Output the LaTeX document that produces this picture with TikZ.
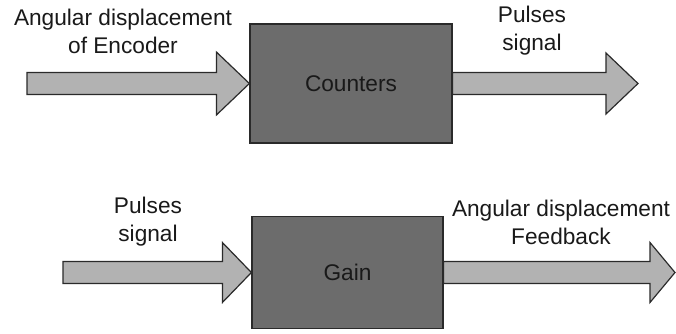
\documentclass[tikz,border=0pt]{standalone}
\usepackage{fontspec}
\setmainfont{Liberation Sans}
\usetikzlibrary{calc,positioning}
\definecolor{blkgray}{HTML}{6C6C6C}
\definecolor{arrgray}{HTML}{B2B2B2}
\definecolor{lnedge}{HTML}{2A2A2A}
\tikzset{
  blockbox/.style = {rectangle, draw=lnedge, line width=0.9pt, fill=blkgray,
                     align=center, font=\fontsize{17}{21}\selectfont, text=black!90},
  sglabel/.style  = {align=center, font=\fontsize{17}{21}\selectfont, text=black!90},
  fatarrow/.style = {draw=lnedge, line width=0.9pt, fill=arrgray, line join=miter},
}
% block arrow: #1 head length, #2 head half width, #3 from, #4 to
\newcommand{\fatarrowdraw}[4]{%
  \draw[fatarrow] ($(#3)+(0,-11)$) -- ($(#4)+(-#1,-11)$) -- ($(#4)+(-#1,-#2)$)
    -- (#4) -- ($(#4)+(-#1,#2)$) -- ($(#4)+(-#1,11)$) -- ($(#3)+(0,11)$) -- cycle;}

\begin{document}
\begin{tikzpicture}[x=0.75pt,y=-0.75pt]
\useasboundingbox (0,0) rectangle (676,333);

% Upper chain
\node[blockbox, minimum width=202*0.75pt, minimum height=119*0.75pt] (cnt) at (351,83.5) {Counters};
\coordinate (encin) at (27,83.5);
\coordinate (pulout) at (638,83.5);
\fatarrowdraw{33}{31.5}{encin}{cnt.west}
\fatarrowdraw{32}{30.5}{cnt.east}{pulout}
\node[sglabel] (encl) at (123,31) {Angular displacement\\of Encoder};
\node[sglabel] (pull) at (532,31) {Pulses\\signal};

% Lower chain
\node[blockbox, minimum width=191*0.75pt, minimum height=112*0.75pt] (gain) at (347.5,272.5) {Gain};
\coordinate (pulin) at (63,272.5);
\coordinate (fbout) at (675,272.5);
\fatarrowdraw{29}{30}{pulin}{gain.west}
\fatarrowdraw{25}{30}{gain.east}{fbout}
\node[sglabel] (pul2) at (148,221.5) {Pulses\\signal};
\node[sglabel] (fbl) at (561,222) {Angular displacement\\Feedback};
\end{tikzpicture}
\end{document}
